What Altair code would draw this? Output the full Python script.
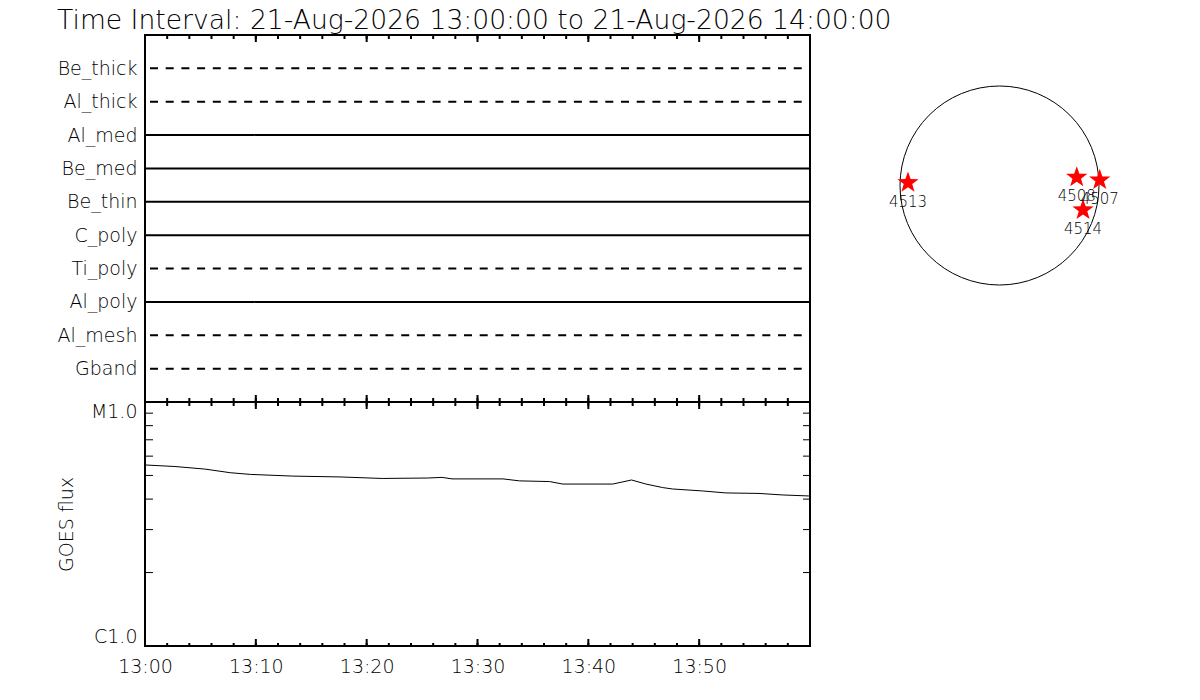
import altair as alt
import pandas as pd

FONT = "DejaVu Sans"
WEIGHT = 200

title_text = "Time Interval: 21-Aug-2026 13:00:00 to 21-Aug-2026 14:00:00"

# Filter channels (top to bottom) and whether each trace is solid (True) or dashed (False)
channels = ["Be_thick", "Al_thick", "Al_med", "Be_med", "Be_thin",
            "C_poly", "Ti_poly", "Al_poly", "Al_mesh", "Gband"]
channel_solid = [False, False, True, True, True, True, False, True, False, False]
channel_span = [0, 60]  # minutes after 13:00

# GOES flux (W/m^2) vs minutes after 13:00
goes_minutes = [0, 2.7, 5.4, 7.7, 9.5, 13.3, 17.6, 21.4, 25.5, 26.8, 27.7, 32.3,
                33.8, 36.5, 37.7, 42.2, 43.9, 45.2, 46.7, 47.6, 50.3, 52.4, 55.4,
                57.5, 59.9]
goes_flux = [5.52e-6, 5.44e-6, 5.31e-6, 5.13e-6, 5.05e-6, 4.97e-6, 4.93e-6, 4.86e-6,
             4.88e-6, 4.91e-6, 4.84e-6, 4.84e-6, 4.75e-6, 4.72e-6, 4.61e-6, 4.61e-6,
             4.79e-6, 4.61e-6, 4.46e-6, 4.40e-6, 4.32e-6, 4.24e-6, 4.22e-6, 4.16e-6,
             4.12e-6]

time_label_minutes = [0, 10, 20, 30, 40, 50]
time_labels = ["13:00", "13:10", "13:20", "13:30", "13:40", "13:50"]
minor_tick_minutes = list(range(0, 60, 2))
major_tick_minutes = [0, 10, 20, 30, 40, 50]

flux_label_values = [1e-6, 1e-5]
flux_labels = ["C1.0", "M1.0"]
flux_minor_ticks = [2e-6, 3e-6, 4e-6, 5e-6, 6e-6, 7e-6, 8e-6, 9e-6]

# Active regions on the disk (arcsec)
region_ids = ["4513", "4508", "4507", "4514"]
region_x = [-872, 736, 955, 796]
region_y = [27, 78, 52, -233]

# ---------------- data tables ----------------
n = len(channels)
rows = []
for i, (c, s) in enumerate(zip(channels, channel_solid)):
    for t in channel_span:
        rows.append({"channel": c, "row": n - i, "t": t, "solid": s})
lines_df = pd.DataFrame(rows)

goes_df = pd.DataFrame({"t": goes_minutes, "flux": goes_flux})
minor_df = pd.DataFrame({"t": minor_tick_minutes})
major_df = pd.DataFrame({"t": major_tick_minutes})
fminor_df = pd.DataFrame({"flux": flux_minor_ticks})
regions_df = pd.DataFrame({"id": region_ids, "x": region_x, "y": region_y})
sun_df = pd.DataFrame({"x": [0], "y": [0]})

W = 665
H_TOP = 367
H_GOES = 244

xscale = alt.Scale(domain=[0, 60], nice=False, zero=False)

row_label_expr = "[" + ",".join("'%s'" % c for c in reversed(channels)) + "][datum.value - 1]"
time_label_expr = "[" + ",".join("'%s'" % s for s in time_labels) + "][round(datum.value / 10)]"
flux_label_expr = "datum.value < 3e-6 ? '%s' : '%s'" % (flux_labels[0], flux_labels[1])


# ---------------- top panel ----------------
def top_ticks(df, y0, y1):
    return alt.Chart(df).mark_rule(color="black", strokeWidth=2).encode(
        x=alt.X("t:Q", scale=xscale, axis=None),
        y=alt.value(y0), y2=alt.value(y1))


dash = [8, 7.7]
top_lines = alt.Chart(lines_df).mark_line(strokeWidth=2, color="black", strokeDashOffset=10.7).encode(
    x=alt.X("t:Q", scale=xscale, axis=None),
    y=alt.Y("row:Q", scale=alt.Scale(domain=[0, n + 1], nice=False, zero=False),
            axis=alt.Axis(values=list(range(1, n + 1)), labelExpr=row_label_expr,
                          ticks=False, domain=False, grid=False, labelPadding=8,
                          labelFontSize=19, title=None)),
    detail="channel:N",
    strokeDash=alt.condition("datum.solid", alt.value([1, 0]), alt.value(dash)),
)

top = alt.layer(
    top_lines,
    top_ticks(minor_df, 0, 4), top_ticks(major_df, 0, 7),
    top_ticks(minor_df, H_TOP, H_TOP - 4), top_ticks(major_df, H_TOP, H_TOP - 7),
).properties(width=W, height=H_TOP)

# ---------------- GOES panel ----------------
goes_xaxis = alt.Axis(values=time_label_minutes, labelExpr=time_label_expr,
                      ticks=False, domain=False, grid=False, labelPadding=11,
                      labelFontSize=19, labelFlush=False, title=None)
yscale_goes = alt.Scale(type="log", domain=[1e-6, 1e-5], nice=False)
goes_yaxis = alt.Axis(values=flux_label_values, labelExpr=flux_label_expr,
                      labelFlush=True, ticks=False, domain=False, grid=False,
                      labelPadding=8, labelFontSize=19, title="GOES flux",
                      titleFontSize=19, titleFontWeight=WEIGHT, titlePadding=14)

goes_line = alt.Chart(goes_df).mark_line(color="black", strokeWidth=1).encode(
    x=alt.X("t:Q", scale=xscale, axis=goes_xaxis),
    y=alt.Y("flux:Q", scale=yscale_goes, axis=goes_yaxis),
)


def goes_xticks(df, y0, y1):
    return alt.Chart(df).mark_rule(color="black", strokeWidth=2).encode(
        x=alt.X("t:Q", scale=xscale, axis=goes_xaxis),
        y=alt.value(y0), y2=alt.value(y1))


def goes_yticks(x0, x1):
    return alt.Chart(fminor_df).mark_rule(color="black", strokeWidth=1).encode(
        y=alt.Y("flux:Q", scale=yscale_goes, axis=goes_yaxis),
        x=alt.value(x0), x2=alt.value(x1))


goes = alt.layer(
    goes_line,
    goes_xticks(minor_df, 0, 4), goes_xticks(major_df, 0, 7),
    goes_xticks(minor_df, H_GOES, H_GOES - 3), goes_xticks(major_df, H_GOES, H_GOES - 7),
    goes_yticks(0, 8), goes_yticks(W, W - 7),
).properties(width=W, height=H_GOES)

# ---------------- solar disk ----------------
D = 301
disk_dom = [-1434, 1434]
dx = alt.X("x:Q", scale=alt.Scale(domain=disk_dom, nice=False, zero=False), axis=None)
dy = alt.Y("y:Q", scale=alt.Scale(domain=disk_dom, nice=False, zero=False), axis=None)

limb = alt.Chart(sun_df).mark_point(shape="circle", size=199 * 199, filled=False,
                                    color="black", strokeWidth=1, opacity=1).encode(x=dx, y=dy)
star_path = ("M0,-1L0.235,-0.324L0.951,-0.309L0.38,0.124L0.588,0.809L0,0.4"
             "L-0.588,0.809L-0.38,0.124L-0.951,-0.309L-0.235,-0.324Z")
stars = alt.Chart(regions_df).mark_point(shape=star_path, size=500, filled=True,
                                         color="#ff0000", opacity=1).encode(x=dx, y=dy)
labels = alt.Chart(regions_df).mark_text(fontSize=15, dy=19, color="black", font=FONT,
                                         fontWeight=WEIGHT).encode(
    x=dx, y=dy, text="id:N")

disk = alt.layer(limb, stars, labels).properties(
    width=D, height=D, view=alt.ViewBackground(stroke="transparent"))

chart = alt.hconcat(
    alt.vconcat(top, goes, spacing=0, bounds="flush"),
    disk,
    spacing=33,
).properties(
    title=alt.TitleParams(title_text, anchor="start", fontSize=26.6, fontWeight=WEIGHT,
                          font=FONT, color="black", offset=-2, dx=1),
    padding={"left": 48, "top": 0, "right": 5, "bottom": 5},
).configure_view(
    stroke="black", strokeWidth=2
).configure_axis(
    labelFont=FONT, titleFont=FONT, labelColor="black", titleColor="black",
    labelFontWeight=WEIGHT
)

chart.save("out.html", embed_options={"renderer": "svg", "actions": False})
